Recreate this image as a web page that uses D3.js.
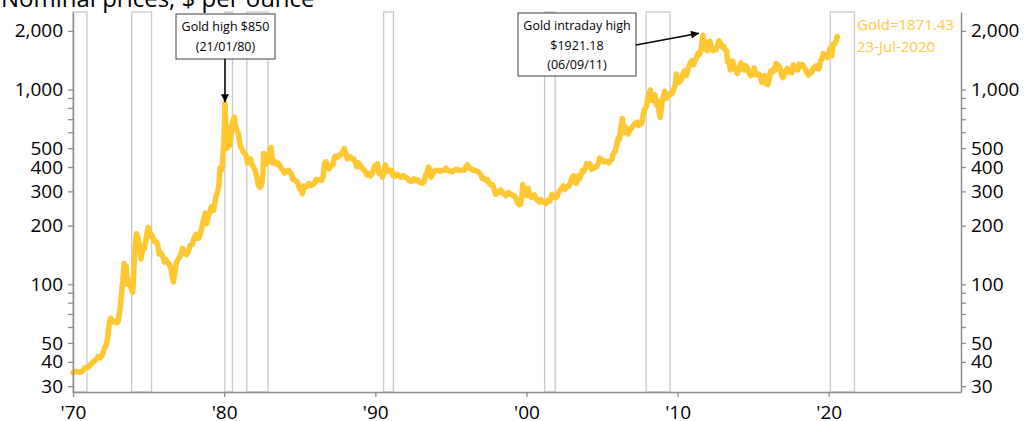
<!DOCTYPE html>
<html>
<head>
<meta charset="utf-8">
<script src="https://cdn.jsdelivr.net/npm/d3@7"></script>
<style>
  body { margin: 0; background: #fff; }
  svg { display: block; font-family: "Open Sans", sans-serif; }
</style>
</head>
<body>
<svg id="chart" width="1025" height="421"></svg>
<script>
// gold price, $ per ounce, [decimal year, price]
var gold1970s = [
  [1970.0,35.2],[1970.2,35.8],[1970.4,35.4],[1970.6,35.6],[1970.8,37.4],[1971.0,37.5],[1971.2,38.9],[1971.35,40.2],
  [1971.5,40.9],[1971.65,42.6],[1971.8,42.0],[1971.95,43.6],[1972.1,47.5],[1972.2,48.5],[1972.3,54],[1972.42,65],
  [1972.5,67],[1972.6,64],[1972.75,64.5],[1972.9,63.5],[1973.0,65],[1973.1,74],[1973.2,88],[1973.3,105],[1973.38,128],
  [1973.45,112],[1973.52,124],[1973.6,100],[1973.7,104],[1973.8,98],[1973.95,91],[1974.05,128],[1974.12,160],[1974.2,182],
  [1974.3,172],[1974.4,158],[1974.5,135],[1974.6,150],[1974.7,152],[1974.8,165],[1974.9,185],[1974.98,196],
  [1975.05,178],[1975.15,182],[1975.25,177],[1975.35,166],[1975.5,166],[1975.6,160],[1975.7,143],[1975.8,145],
  [1975.95,139],[1976.05,130],[1976.15,134],[1976.3,128],[1976.4,126],[1976.5,118],[1976.6,106],[1976.65,103],
  [1976.75,116],[1976.85,130],[1976.95,134],[1977.1,140],[1977.25,153],[1977.35,146],[1977.5,142],[1977.6,146],
  [1977.75,158],[1977.9,161],[1978.0,172],[1978.15,181],[1978.3,172],[1978.45,184],[1978.6,208],[1978.75,232],
  [1978.85,205],[1978.95,224],[1979.05,234],[1979.15,250],[1979.3,240],[1979.45,280],[1979.55,296],[1979.65,318],
  [1979.72,396],[1979.8,385],[1979.88,410],[1979.96,512]
];
var gold1980s = [
  [1980.02,650],[1980.056,850],[1980.1,680],[1980.15,640],[1980.2,500],[1980.25,510],[1980.32,560],[1980.4,520],
  [1980.5,640],[1980.58,690],[1980.68,720],[1980.75,650],[1980.85,620],[1980.95,590],[1981.05,520],[1981.15,500],
  [1981.25,480],[1981.35,470],[1981.45,460],[1981.55,420],[1981.65,430],[1981.75,440],[1981.85,410],[1981.95,398],
  [1982.05,385],[1982.15,360],[1982.25,325],[1982.35,315],[1982.45,320],[1982.55,350],[1982.62,470],[1982.7,420],
  [1982.78,415],[1982.88,430],[1982.96,448],[1983.05,500],[1983.1,505],[1983.2,420],[1983.3,430],[1983.42,415],
  [1983.55,420],[1983.65,410],[1983.75,395],[1983.9,385],[1984.0,372],[1984.12,380],[1984.25,385],[1984.35,375],
  [1984.45,370],[1984.55,345],[1984.65,345],[1984.75,340],[1984.88,330],[1984.98,310],[1985.08,305],[1985.18,292],
  [1985.28,320],[1985.38,315],[1985.48,318],[1985.6,330],[1985.72,322],[1985.85,325],[1985.96,328],[1986.08,345],
  [1986.2,342],[1986.32,345],[1986.45,342],[1986.55,358],[1986.65,420],[1986.75,425],[1986.85,400],[1986.96,392],
  [1987.08,405],[1987.2,410],[1987.3,450],[1987.42,455],[1987.55,450],[1987.65,460],[1987.75,468],[1987.85,480],
  [1987.94,498],[1988.05,470],[1988.15,440],[1988.25,450],[1988.35,450],[1988.48,440],[1988.58,440],[1988.68,425],
  [1988.78,400],[1988.88,420],[1988.98,410],[1989.08,400],[1989.2,390],[1989.32,380],[1989.45,365],[1989.58,370],
  [1989.7,360],[1989.82,375],[1989.96,405]
];
var gold1990s = [
  [1990.05,410],[1990.15,415],[1990.25,370],[1990.38,370],[1990.48,355],[1990.58,380],[1990.65,410],[1990.75,395],
  [1990.88,380],[1990.98,385],[1991.08,385],[1991.18,362],[1991.3,358],[1991.45,368],[1991.58,360],[1991.7,355],
  [1991.85,362],[1991.96,355],[1992.1,352],[1992.25,340],[1992.4,338],[1992.55,348],[1992.68,340],[1992.8,344],
  [1992.95,334],[1993.1,330],[1993.22,335],[1993.32,360],[1993.42,375],[1993.52,400],[1993.6,390],[1993.7,355],
  [1993.8,370],[1993.92,382],[1994.05,385],[1994.18,385],[1994.3,380],[1994.42,385],[1994.55,385],[1994.68,395],
  [1994.8,385],[1994.95,380],[1995.08,378],[1995.22,385],[1995.35,390],[1995.5,385],[1995.62,385],[1995.75,385],
  [1995.9,386],[1996.02,405],[1996.1,410],[1996.22,396],[1996.35,392],[1996.48,385],[1996.6,385],[1996.72,380],
  [1996.85,376],[1996.96,368],[1997.08,350],[1997.2,350],[1997.3,342],[1997.42,345],[1997.52,330],[1997.62,325],
  [1997.75,325],[1997.85,310],[1997.96,290],[1998.06,295],[1998.18,296],[1998.3,305],[1998.42,295],[1998.52,292],
  [1998.62,285],[1998.72,290],[1998.82,296],[1998.96,290],[1999.06,287],[1999.18,285],[1999.3,278],[1999.42,262],
  [1999.52,256],[1999.62,258],[1999.72,290],[1999.76,325],[1999.82,300],[1999.9,292],[1999.98,290]
];
var gold2000s = [
  [2000.06,285],[2000.12,310],[2000.2,290],[2000.32,280],[2000.42,285],[2000.52,288],[2000.62,275],[2000.72,272],
  [2000.85,265],[2000.96,272],[2001.08,265],[2001.2,262],[2001.3,260],[2001.42,270],[2001.55,268],[2001.68,290],
  [2001.8,280],[2001.92,278],[2002.02,282],[2002.12,296],[2002.22,303],[2002.35,312],[2002.45,320],[2002.55,308],
  [2002.68,318],[2002.8,318],[2002.92,335],[2003.0,350],[2003.1,360],[2003.2,335],[2003.3,330],[2003.4,360],
  [2003.5,348],[2003.6,362],[2003.7,385],[2003.8,380],[2003.9,398],[2003.98,415],[2004.08,405],[2004.2,415],
  [2004.3,390],[2004.4,392],[2004.5,400],[2004.62,400],[2004.72,412],[2004.85,445],[2004.96,438],[2005.1,425],
  [2005.22,430],[2005.35,425],[2005.45,420],[2005.55,430],[2005.65,440],[2005.75,470],[2005.85,480],[2005.96,512],
  [2006.05,560],[2006.15,555],[2006.25,640],[2006.35,710],[2006.45,600],[2006.55,640],[2006.65,625],[2006.75,590],
  [2006.85,628],[2006.96,632],[2007.08,655],[2007.2,668],[2007.3,680],[2007.42,655],[2007.52,665],[2007.62,670],
  [2007.72,740],[2007.8,790],[2007.88,800],[2007.96,835],[2008.05,920],[2008.15,975],[2008.2,995],[2008.3,880],
  [2008.4,890],[2008.5,940],[2008.6,830],[2008.7,870],[2008.8,740],[2008.85,720],[2008.92,800],[2008.98,870],
  [2009.06,920],[2009.14,980],[2009.25,900],[2009.35,920],[2009.45,950],[2009.55,940],[2009.65,960],[2009.75,1010],
  [2009.85,1060],[2009.92,1200],[2009.98,1100]
];
var gold2010s = [
  [2010.05,1110],[2010.12,1090],[2010.22,1120],[2010.32,1170],[2010.4,1230],[2010.5,1250],[2010.58,1180],[2010.68,1270],
  [2010.8,1350],[2010.88,1380],[2010.96,1405],[2011.06,1340],[2011.15,1410],[2011.25,1450],[2011.33,1530],[2011.42,1510],
  [2011.5,1540],[2011.58,1640],[2011.63,1820],[2011.68,1900],[2011.73,1620],[2011.8,1650],[2011.88,1750],[2011.96,1580],
  [2012.06,1720],[2012.14,1770],[2012.24,1650],[2012.34,1580],[2012.44,1610],[2012.54,1600],[2012.64,1680],[2012.74,1780],
  [2012.84,1720],[2012.94,1660],[2013.04,1670],[2013.14,1600],[2013.24,1580],[2013.3,1390],[2013.4,1400],[2013.48,1260],
  [2013.55,1290],[2013.64,1400],[2013.74,1310],[2013.84,1260],[2013.96,1210],[2014.06,1260],[2014.18,1370],[2014.28,1290],
  [2014.4,1260],[2014.5,1330],[2014.62,1290],[2014.72,1220],[2014.82,1180],[2014.9,1200],[2014.98,1190],[2015.06,1290],
  [2015.14,1210],[2015.24,1190],[2015.36,1200],[2015.46,1180],[2015.56,1090],[2015.66,1130],[2015.76,1180],[2015.86,1070],
  [2015.96,1060],[2016.06,1120],[2016.14,1240],[2016.26,1230],[2016.36,1280],[2016.46,1260],[2016.52,1360],[2016.62,1340],
  [2016.72,1320],[2016.8,1260],[2016.9,1170],[2016.98,1150],[2017.06,1200],[2017.16,1250],[2017.26,1280],[2017.36,1230],
  [2017.46,1270],[2017.56,1220],[2017.66,1340],[2017.76,1280],[2017.86,1290],[2017.96,1260],[2018.06,1350],[2018.16,1320],
  [2018.26,1340],[2018.36,1300],[2018.46,1270],[2018.56,1220],[2018.66,1190],[2018.76,1230],[2018.86,1220],[2018.96,1280],
  [2019.06,1300],[2019.16,1320],[2019.26,1280],[2019.36,1280],[2019.46,1400],[2019.56,1440],[2019.64,1530],[2019.72,1500],
  [2019.82,1480],[2019.9,1460],[2019.98,1520]
];
var gold2020s = [
  [2020.04,1580],[2020.12,1640],[2020.2,1490],[2020.28,1700],[2020.36,1720],[2020.44,1730],[2020.5,1780],[2020.56,1871.43]
];

// US recessions, [start, end] in decimal years
var recessions = [
  [1970.0,1970.92],[1973.88,1975.2],[1980.05,1980.55],[1981.5,1982.9],[1990.55,1991.2],
  [2001.2,2001.9],[2007.92,2009.5],[2020.1,2021.7]
];

var yTickLabels = [30,40,50,100,200,300,400,500,1000,2000];
var yMinorTicks = [60,70,80,90,600,700,800,900];
var xTickYears = [1970,1980,1990,2000,2010,2020];

var gold = gold1970s.concat(gold1980s, gold1990s, gold2000s, gold2010s, gold2020s);

var svg = d3.select("#chart");
var plotLeft = 73, plotRight = 961, plotTop = 12, plotBottom = 392;
var lineColor = "#FFC832";
var axisColor = "#8c8c8c";

var x = d3.scaleLinear().domain([1970, 2028.75]).range([plotLeft, plotRight]);
var y = d3.scaleLog().domain([28, 2500]).range([plotBottom, plotTop]);

// title (cut off at the top in the original)
svg.append("text")
    .attr("x", 1)
    .attr("y", 7)
    .attr("font-size", 24)
    .attr("fill", "#000")
    .text("Nominal prices, $ per ounce");

// recession bars
svg.append("g")
    .selectAll("rect")
    .data(recessions)
    .enter().append("rect")
    .attr("x", function(d) { return x(d[0]); })
    .attr("y", plotTop)
    .attr("width", function(d) { return x(d[1]) - x(d[0]); })
    .attr("height", plotBottom - plotTop)
    .attr("fill", "none")
    .attr("stroke", "#c8c8c8")
    .attr("stroke-width", 1.3);

// price line
var line = d3.line()
    .x(function(d) { return x(d[0]); })
    .y(function(d) { return y(d[1]); });

svg.append("path")
    .datum(gold)
    .attr("d", line)
    .attr("fill", "none")
    .attr("stroke", lineColor)
    .attr("stroke-width", 5.5)
    .attr("stroke-linejoin", "round")
    .attr("stroke-linecap", "round");

// axes
function styleAxis(g) {
    g.select(".domain").attr("stroke", axisColor).attr("stroke-width", 1.5);
    g.selectAll(".tick line").attr("stroke", axisColor).attr("stroke-width", 1.3);
    g.selectAll(".tick text").attr("fill", "#000").attr("font-family", "Open Sans, sans-serif");
}

svg.append("g")
    .attr("transform", "translate(" + plotLeft + ",0)")
    .call(d3.axisLeft(y).tickValues(yTickLabels).tickFormat(d3.format(",")).tickSize(5).tickPadding(5).tickSizeOuter(0))
    .attr("font-size", 19)
    .call(styleAxis);

svg.append("g")
    .attr("transform", "translate(" + plotRight + ",0)")
    .call(d3.axisRight(y).tickValues(yTickLabels).tickFormat(d3.format(",")).tickSize(5).tickPadding(5).tickSizeOuter(0))
    .attr("font-size", 19)
    .call(styleAxis);

// minor ticks, both sides
[[plotLeft, -5], [plotRight, 5]].forEach(function(s) {
    svg.append("g")
        .selectAll("line")
        .data(yMinorTicks)
        .enter().append("line")
        .attr("x1", s[0])
        .attr("x2", s[0] + s[1])
        .attr("y1", function(d) { return y(d); })
        .attr("y2", function(d) { return y(d); })
        .attr("stroke", axisColor)
        .attr("stroke-width", 1.3);
});

svg.append("g")
    .attr("transform", "translate(0," + plotBottom + ")")
    .call(d3.axisBottom(x).tickValues(xTickYears)
        .tickFormat(function(d) { return "'" + String(d).slice(2); })
        .tickSize(5).tickPadding(9).tickSizeOuter(0))
    .attr("font-size", 19)
    .call(styleAxis);

// annotations
svg.append("defs").append("marker")
    .attr("id", "arrow")
    .attr("viewBox", "0 0 10 10")
    .attr("refX", 10)
    .attr("refY", 5)
    .attr("markerWidth", 9)
    .attr("markerHeight", 8)
    .attr("markerUnits", "userSpaceOnUse")
    .attr("orient", "auto")
    .append("path")
    .attr("d", "M0,0L10,5L0,10Z")
    .attr("fill", "#000");

var peak1980 = gold1980s[1];
var peak2011 = gold2010s[19];

// box 1
svg.append("rect")
    .attr("x", 176).attr("y", 14).attr("width", 99).attr("height", 45)
    .attr("fill", "#fff").attr("stroke", "#404040").attr("stroke-width", 1);
svg.append("line")
    .attr("x1", x(peak1980[0])).attr("y1", 59)
    .attr("x2", x(peak1980[0])).attr("y2", y(peak1980[1]) - 1)
    .attr("stroke", "#000").attr("stroke-width", 1.5)
    .attr("marker-end", "url(#arrow)");
svg.append("text")
    .attr("x", 225.5).attr("y", 31).attr("text-anchor", "middle").attr("font-size", 12.5)
    .text("Gold high $850");
svg.append("text")
    .attr("x", 225.5).attr("y", 51).attr("text-anchor", "middle").attr("font-size", 12.5)
    .text("(21/01/80)");

// box 2
svg.append("rect")
    .attr("x", 518).attr("y", 13).attr("width", 118).attr("height", 63)
    .attr("fill", "#fff").attr("stroke", "#404040").attr("stroke-width", 1);
svg.append("line")
    .attr("x1", 636).attr("y1", 45)
    .attr("x2", x(peak2011[0]) - 4).attr("y2", y(peak2011[1]) - 2)
    .attr("stroke", "#000").attr("stroke-width", 1.5)
    .attr("marker-end", "url(#arrow)");
["Gold intraday high", "$1921.18", "(06/09/11)"].forEach(function(t, i) {
    svg.append("text")
        .attr("x", 577).attr("y", 30 + i * 19.5).attr("text-anchor", "middle").attr("font-size", 12.5)
        .text(t);
});

// last value label
var last = gold2020s[gold2020s.length - 1];
svg.append("text")
    .attr("x", 857).attr("y", 30).attr("font-size", 15).attr("fill", "#FFC843")
    .text("Gold=" + last[1]);
svg.append("text")
    .attr("x", 857).attr("y", 52).attr("font-size", 15).attr("fill", "#FFC843")
    .text("23-Jul-2020");
</script>
</body>
</html>
